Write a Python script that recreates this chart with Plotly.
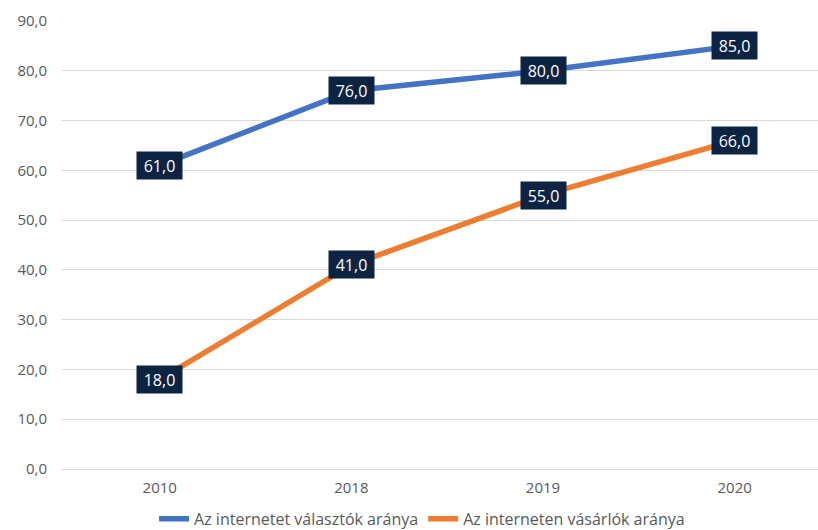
import plotly.graph_objects as go

years = ["2010", "2018", "2019", "2020"]
valasztok = [61.0, 76.0, 80.0, 85.0]
vasarlok = [18.0, 41.0, 55.0, 66.0]
series_names = ["Az internetet választók aránya", "Az interneten vásárlók aránya"]
colors = ["#4472C4", "#ED7D31"]

fig = go.Figure()
for name, vals, col in zip(series_names, [valasztok, vasarlok], colors):
    fig.add_trace(go.Scatter(
        x=years, y=vals, name=name, mode="lines",
        line=dict(color=col, width=5.5),
    ))
    # value boxes; x given as the category index so numeric-looking labels are not misread
    for i, yv in enumerate(vals):
        fig.add_annotation(
            x=i, y=yv, xref="x", yref="y",
            text=f"{yv:.1f}".replace(".", ","),
            showarrow=False, bgcolor="#0C2442", borderpad=4,
            width=37, height=19,
            font=dict(color="white", size=16, family="Open Sans"),
        )

fig.update_layout(
    width=818, height=530,
    margin=dict(l=62, r=0, t=21, b=61),
    paper_bgcolor="white", plot_bgcolor="white",
    separators=", ",
    font=dict(family="Open Sans", color="#595959", size=15),
    showlegend=True,
    legend=dict(orientation="h", xref="container", yref="container",
                x=0.516, xanchor="center", y=0.021, yanchor="middle",
                font=dict(size=16, color="#595959"), itemwidth=30,
                tracegroupgap=0),
    xaxis=dict(type="category", range=[-0.51, 3.435], showgrid=False,
               showline=False, ticks="", ticklabelstandoff=8,
               tickfont=dict(size=15, color="#595959")),
    yaxis=dict(range=[0, 90], dtick=10, tickformat=".1f", gridcolor="#D9D9D9",
               gridwidth=1, zeroline=True, zerolinecolor="#D9D9D9", zerolinewidth=1,
               ticks="", ticklabelstandoff=14,
               tickfont=dict(size=15, color="#595959")),
)

fig.write_html("out.html")
